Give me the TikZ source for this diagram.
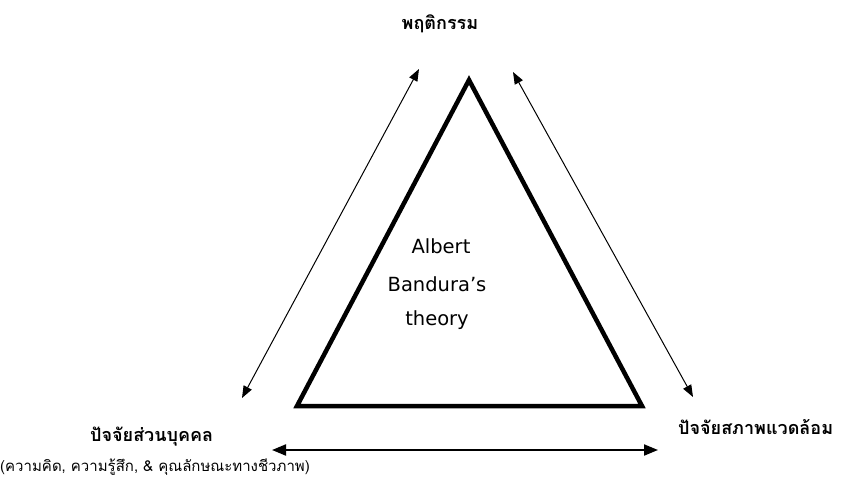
\documentclass[tikz,border=0pt]{standalone}
\usepackage{fontspec}
\newfontfamily\thaifont[Script=Thai]{Loma}
\newfontfamily\latinfont{DejaVu Sans}
\usetikzlibrary{arrows.meta}

\tikzset{
  thinarr/.style={arrows={Triangle[length=12pt,width=9pt]-Triangle[length=12pt,width=9pt]}, line width=1pt},
  thickarr/.style={arrows={Triangle[length=14pt,width=11pt]-Triangle[length=14pt,width=11pt]}, line width=2pt},
  headlabel/.style={font=\thaifont\bfseries\fontsize{18}{20}\selectfont, inner sep=0pt},
  notelabel/.style={font=\thaifont\fontsize{15}{17}\selectfont, inner sep=0pt},
  innerlabel/.style={font=\latinfont\fontsize{19.5}{22}\selectfont, inner sep=0pt}
}

\begin{document}
\begin{tikzpicture}[x=1pt, y=-1pt]
\useasboundingbox (0,0) rectangle (846,485);
% triangle
\draw[line width=4.5pt, line join=miter] (469,80) -- (642,406) -- (297,406) -- cycle;
\node[innerlabel] (albert) at (441,246) {Albert};
\node[innerlabel] (bandura) at (437,284) {Bandura’s};
\node[innerlabel] (theory) at (437,320) {theory};
% labels
\node[headlabel] (behav) at (440,24) {พฤติกรรม};
\node[headlabel, anchor=west] (person) at (90,437) {ปัจจัยส่วนบุคคล};
\node[notelabel, anchor=west] (note) at (0,467) {(ความคิด, ความรู้สึก, \& คุณลักษณะทางชีวภาพ)};
\node[headlabel, anchor=west] (envir) at (678,427) {ปัจจัยสภาพแวดล้อม};
% arrow ends
\coordinate (lt) at (419,69);
\coordinate (lb) at (242,398);
\coordinate (rt) at (513,72);
\coordinate (rb) at (693,397);
\coordinate (bl) at (272,450);
\coordinate (br) at (658,450);
\draw[thinarr] (lb) -- (lt);
\draw[thinarr] (rt) -- (rb);
\draw[thickarr] (bl) -- (br);
\end{tikzpicture}
\end{document}
